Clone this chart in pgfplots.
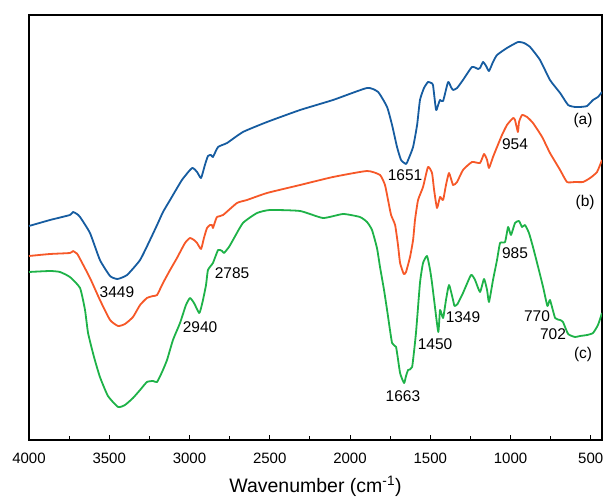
\documentclass[border=0pt]{standalone}
\usepackage{fontspec}
\setmainfont{Liberation Sans}
\usepackage{pgfplots}
\pgfplotsset{compat=1.18}
\definecolor{specA}{RGB}{22,92,160}
\definecolor{specB}{RGB}{246,88,40}
\definecolor{specC}{RGB}{30,178,72}
\tikzset{peak/.style={font=\fontsize{15.5}{18}\selectfont, inner sep=0pt}}
\begin{document}
\begin{tikzpicture}
\path[use as bounding box] (-29pt,-57pt) rectangle (574pt,440pt);
\begin{axis}[
  at={(0pt,0pt)}, anchor=south west,
  scale only axis, width=573pt, height=425pt,
  x dir=reverse, xmin=430, xmax=4000, ymin=0, ymax=425,
  xtick={500,1000,...,4000}, minor x tick num=1,
  ytick=\empty,
  xtick pos=left, tick align=inside,
  major tick length=5pt, minor tick length=4pt,
  axis line style={line width=1.4pt},
  every tick/.style={line width=1pt, black},
  ticklabel style={font=\fontsize{15}{18}\selectfont},
  xticklabel style={anchor=base, yshift=-23.5pt},
  /pgf/number format/assume math mode=true,
  /pgf/number format/1000 sep={},
  xlabel={Wavenumber (cm\textsuperscript{-1})},
  xlabel style={font=\fontsize{19.5}{23}\selectfont,
    at={(axis description cs:0.5,0)}, anchor=base, yshift=-53pt},
  every axis plot/.append style={line width=1.8pt, line join=round,
    smooth, tension=0.3},
]
% (a)
\addplot[specA] table {
4000 214
3869 220
3745 225
3726 228
3701 226
3682 223
3620 207
3558 180
3495 164
3449 161
3389 165
3308 180
3246 200
3202 215
3165 228
3121 240
3047 260
2984 272
2953 268
2928 262
2904 275
2885 284
2866 285
2854 283
2822 293
2766 297
2667 308
2517 318
2311 330
2106 340
1894 352
1825 348
1769 333
1738 315
1707 293
1682 280
1651 276
1638 280
1607 293
1582 315
1564 340
1539 352
1514 358
1495 357
1483 355
1464 330
1451 335
1439 340
1420 339
1389 358
1371 353
1358 350
1333 352
1296 360
1240 373
1202 371
1190 372
1171 378
1152 374
1134 369
1109 378
1084 385
1022 392
953 398
916 397
878 393
816 380
754 360
691 347
641 335
598 333
567 333
523 334
486 340
455 343
430 348
};
% (b)
\addplot[specB] table {
4000 184
3869 186
3745 187
3726 189
3707 187
3695 185
3620 162
3558 140
3495 120
3445 114
3402 116
3352 123
3308 135
3265 142
3227 144
3202 145
3165 157
3121 170
3078 182
3028 197
2997 202
2972 200
2953 197
2928 191
2910 202
2891 212
2872 215
2860 215
2854 212
2841 218
2829 223
2791 225
2704 237
2642 240
2517 247
2311 255
2106 263
1894 269
1813 265
1782 255
1763 240
1744 225
1719 215
1701 195
1688 177
1665 166
1651 168
1626 183
1607 200
1595 220
1576 240
1545 253
1514 273
1489 267
1476 250
1458 232
1439 243
1420 240
1402 255
1383 267
1358 255
1333 258
1296 270
1240 278
1190 277
1165 286
1146 280
1134 272
1109 283
1084 293
1053 305
1022 315
984 322
972 320
954 308
947 318
928 325
897 323
860 317
803 303
754 287
691 270
648 258
598 258
548 258
504 262
461 268
430 280
};
% (c)
\addplot[specC] table {
4000 168
3869 169
3807 168
3745 163
3682 152
3651 130
3632 107
3595 83
3558 63
3508 44
3445 33
3402 35
3352 42
3308 50
3265 58
3227 59
3202 58
3171 68
3140 80
3103 100
3059 117
3022 135
2997 142
2972 137
2940 127
2928 132
2916 140
2897 155
2885 170
2854 177
2822 190
2797 189
2785 187
2754 193
2729 200
2667 217
2579 227
2498 230
2311 229
2168 222
2043 226
1938 223
1894 218
1863 210
1832 192
1813 173
1788 150
1769 130
1738 97
1713 93
1688 67
1663 57
1651 64
1638 70
1613 73
1589 107
1564 157
1545 177
1520 184
1501 170
1489 157
1476 140
1450 108
1439 130
1420 122
1402 140
1383 155
1358 140
1349 134
1330 136
1296 147
1246 165
1221 160
1190 148
1165 161
1146 150
1134 138
1109 160
1084 180
1065 197
1034 198
1015 213
997 205
972 217
947 219
928 213
910 215
885 207
860 193
828 173
797 153
770 134
754 140
722 122
691 120
673 118
641 106
598 103
567 104
523 105
486 107
455 115
430 127
};
% curve tags
\node[peak] at (axis cs:548,320) {(a)};
\node[peak] at (axis cs:535,238) {(b)};
\node[peak] at (axis cs:548,86) {(c)};
% band positions
\node[peak] at (axis cs:3452,148) {3449};
\node[peak] at (axis cs:2735,167) {2785};
\node[peak] at (axis cs:2934,113) {2940};
\node[peak] at (axis cs:1657,265) {1651};
\node[peak] at (axis cs:972,296) {954};
\node[peak] at (axis cs:972,187) {985};
\node[peak] at (axis cs:1296,123) {1349};
\node[peak] at (axis cs:1470,96) {1450};
\node[peak] at (axis cs:835,124) {770};
\node[peak] at (axis cs:735,106) {702};
\node[peak] at (axis cs:1670,44) {1663};
\end{axis}
\end{tikzpicture}
\end{document}
